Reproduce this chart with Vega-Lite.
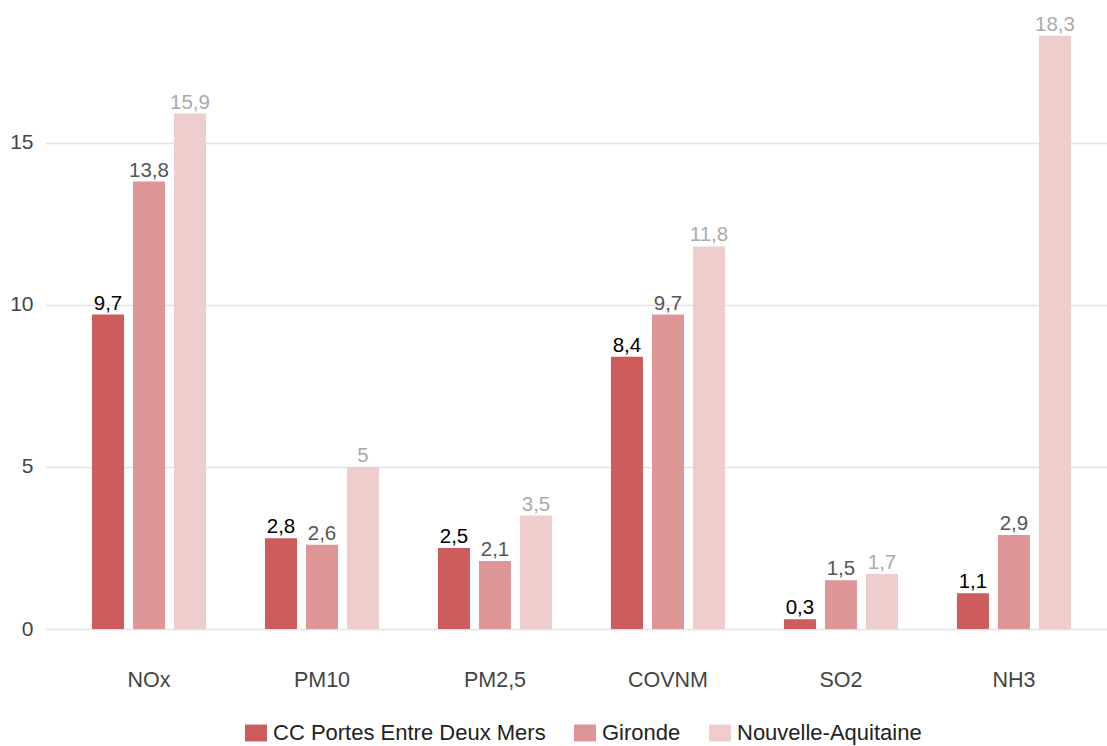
{
  "$schema": "https://vega.github.io/schema/vega-lite/v6.json",
  "autosize": "none",
  "padding": {"left": 45, "top": 13, "right": 0, "bottom": 117},
  "width": 1062,
  "height": 616,
  "background": "white",
  "config": {
    "font": "Liberation Sans",
    "view": {"stroke": null},
    "locale": {"number": {"decimal": ",", "thousands": " ", "grouping": [3], "currency": ["", " €"]}}
  },
  "data": {
    "values": [
      {"polluant": "NOx", "zone": "CC Portes Entre Deux Mers", "valeur": 9.7},
      {"polluant": "NOx", "zone": "Gironde", "valeur": 13.8},
      {"polluant": "NOx", "zone": "Nouvelle-Aquitaine", "valeur": 15.9},
      {"polluant": "PM10", "zone": "CC Portes Entre Deux Mers", "valeur": 2.8},
      {"polluant": "PM10", "zone": "Gironde", "valeur": 2.6},
      {"polluant": "PM10", "zone": "Nouvelle-Aquitaine", "valeur": 5},
      {"polluant": "PM2,5", "zone": "CC Portes Entre Deux Mers", "valeur": 2.5},
      {"polluant": "PM2,5", "zone": "Gironde", "valeur": 2.1},
      {"polluant": "PM2,5", "zone": "Nouvelle-Aquitaine", "valeur": 3.5},
      {"polluant": "COVNM", "zone": "CC Portes Entre Deux Mers", "valeur": 8.4},
      {"polluant": "COVNM", "zone": "Gironde", "valeur": 9.7},
      {"polluant": "COVNM", "zone": "Nouvelle-Aquitaine", "valeur": 11.8},
      {"polluant": "SO2", "zone": "CC Portes Entre Deux Mers", "valeur": 0.3},
      {"polluant": "SO2", "zone": "Gironde", "valeur": 1.5},
      {"polluant": "SO2", "zone": "Nouvelle-Aquitaine", "valeur": 1.7},
      {"polluant": "NH3", "zone": "CC Portes Entre Deux Mers", "valeur": 1.1},
      {"polluant": "NH3", "zone": "Gironde", "valeur": 2.9},
      {"polluant": "NH3", "zone": "Nouvelle-Aquitaine", "valeur": 18.3}
    ]
  },
  "encoding": {
    "x": {
      "field": "polluant", "type": "nominal", "sort": null,
      "scale": {"paddingInner": 0.341, "paddingOuter": 0.24, "align": 0.566},
      "axis": {"title": null, "domain": false, "ticks": false, "labelAngle": 0, "labelFontSize": 21.5, "labelColor": "#444444", "labelPadding": 40}
    },
    "xOffset": {"field": "zone", "type": "nominal", "sort": null, "scale": {"paddingInner": 0.22}},
    "y": {
      "field": "valeur", "type": "quantitative",
      "scale": {"domain": [0, 19], "nice": false},
      "axis": {"title": null, "values": [0, 5, 10, 15], "format": "~g", "domain": false, "ticks": false, "labelFontSize": 21, "labelColor": "#444444", "labelPadding": 12, "gridColor": "#e3e3e3", "gridWidth": 1.5}
    }
  },
  "layer": [
    {
      "mark": {"type": "bar"},
      "encoding": {
        "color": {
          "field": "zone", "type": "nominal", "sort": null,
          "scale": {"range": ["#CD5C5C", "#DE9595", "#F0CDCD"]},
          "legend": {"title": null, "orient": "none", "direction": "horizontal", "legendX": 200, "legendY": 709, "symbolType": "M-1,-0.77H1V0.77H-1Z", "symbolSize": 484, "symbolStrokeWidth": 0, "labelFontSize": 22, "labelColor": "#222222", "labelOffset": 6, "columnPadding": 28, "labelLimit": 400}
        }
      }
    },
    {
      "mark": {"type": "text", "baseline": "bottom", "dy": -1, "fontSize": 20.5},
      "encoding": {
        "text": {"field": "valeur", "type": "quantitative", "format": "~g"},
        "color": {
          "field": "zone", "type": "nominal", "sort": null,
          "scale": {"range": ["#000000", "#555555", "#aaaaaa"]},
          "legend": null
        }
      }
    }
  ],
  "resolve": {"scale": {"color": "independent"}}
}
